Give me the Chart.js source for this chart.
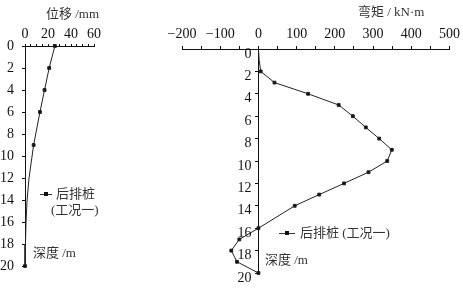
<!DOCTYPE html>
<html>
<head>
<meta charset="utf-8">
<script src="https://cdn.jsdelivr.net/npm/chart.js@4.4.0/dist/chart.umd.min.js"></script>
<style>
  body { margin: 0; width: 463px; height: 290px; overflow: hidden; background: #fff; position: relative; }
  canvas { position: absolute; top: 0; }
  .txt { position: absolute; font-family: "Liberation Serif", "Noto Sans CJK SC", serif; font-size: 13px; color: #333; white-space: nowrap; line-height: 1; }
  .leg { position: absolute; height: 1px; background: #333; }
  .mk { position: absolute; width: 4px; height: 4px; background: #111; }
</style>
</head>
<body>
<div style="position:absolute;left:0;top:0;width:120px;height:290px"><canvas id="dispChart"></canvas></div>
<div style="position:absolute;left:160px;top:0;width:303px;height:290px"><canvas id="momentChart"></canvas></div>

<div class="txt" style="left:46px;top:7px">位移 /mm</div>
<div class="txt" style="left:358px;top:5px">弯矩 / kN·m</div>
<div class="txt" style="left:33px;top:246px">深度 /m</div>
<div class="txt" style="left:265px;top:253px">深度 /m</div>

<div class="leg" style="left:40px;top:194px;width:12px"></div>
<div class="mk" style="left:44px;top:192px"></div>
<div class="txt" style="left:56px;top:187px">后排桩</div>
<div class="txt" style="left:51px;top:203px">(工况一)</div>

<div class="leg" style="left:279px;top:233px;width:16px"></div>
<div class="mk" style="left:285px;top:231px"></div>
<div class="txt" style="left:300px;top:226px">后排桩 (工况一)</div>

<script>
// pile displacement (mm) vs depth (m)
const dispDepth = [0, 2, 4, 6, 9, 12, 14, 16, 18, 20];
const dispValue = [26, 21, 17, 13, 7.5, 3.5, 1.8, 0.9, 0.4, 0];
const dispMarker = [1, 1, 1, 1, 1, 0, 0, 0, 0, 1];

// bending moment (kN·m) vs depth (m)
const momentDepth = [0, 1, 2, 3, 4, 5, 6, 7, 8, 9, 10, 11, 12, 13, 14, 16, 17, 18, 19, 20];
const momentValue = [0, 2, 6, 42, 130, 210, 247, 281, 316, 349, 337, 288, 224, 159, 95, 0, -50, -71, -56, 0];
const momentMarker = [0, 0, 1, 1, 1, 1, 1, 1, 1, 1, 1, 1, 1, 1, 1, 1, 1, 1, 1, 1];

const dispTicks = [0, 20, 40, 60];
const momentTicks = [-200, -100, 0, 100, 200, 300, 400, 500];
const depthTicks = [0, 2, 4, 6, 8, 10, 12, 14, 16, 18, 20];

const tickFont = { family: 'Liberation Serif', size: 14 };
const ink = '#111';

function toPoints(xs, ys) {
    return xs.map((d, i) => ({ x: ys[i], y: d }));
}

function depthAxis(extra, suffix, offset) {
    return Object.assign({
        type: 'linear',
        reverse: true,
        min: 0,
        max: 20,
        ticks: {
            stepSize: 1,
            color: ink,
            font: tickFont,
            padding: 8,
            labelOffset: offset,
            callback: v => depthTicks.includes(v) ? String(v) + suffix : ''
        },
        grid: { drawOnChartArea: false, color: ink, tickLength: 3 },
        border: { display: true, color: ink, width: 1 }
    }, extra);
}

const dispCtx = document.getElementById('dispChart').getContext('2d');
new Chart(dispCtx, {
    type: 'line',
    data: {
        datasets: [{
            label: '后排桩 (工况一)',
            data: toPoints(dispDepth, dispValue),
            borderColor: '#222',
            borderWidth: 1,
            backgroundColor: ink,
            pointStyle: 'rect',
            pointRadius: dispMarker.map(m => m ? 2 : 0),
            clip: false,
            tension: 0
        }]
    },
    options: {
        responsive: true,
        maintainAspectRatio: false,
        animation: false,
        layout: { padding: { left: 0, top: 0, right: 26, bottom: 24 } },
        plugins: { legend: { display: false }, tooltip: { enabled: false } },
        scales: {
            x: {
                type: 'linear',
                position: 'top',
                min: 0,
                max: 60,
                ticks: {
                    stepSize: 5,
                    color: ink,
                    font: tickFont,
                    padding: 1,
                    maxRotation: 0,
                    autoSkip: false,
                    callback: v => dispTicks.includes(v) ? String(v) : ''
                },
                grid: { drawOnChartArea: false, color: ink, tickLength: 2 },
                border: { display: true, color: ink, width: 1 },
                afterFit: s => { s.height = 46; }
            },
            y: depthAxis({
                position: 'left',
                afterFit: s => { s.width = 25; }
            }, '', 0)
        }
    }
});

const momentCtx = document.getElementById('momentChart').getContext('2d');
new Chart(momentCtx, {
    type: 'line',
    data: {
        datasets: [{
            label: '后排桩 (工况一)',
            data: toPoints(momentDepth, momentValue),
            borderColor: '#222',
            borderWidth: 1,
            backgroundColor: ink,
            pointStyle: 'rect',
            pointRadius: momentMarker.map(m => m ? 2 : 0),
            clip: false,
            tension: 0
        }]
    },
    options: {
        responsive: true,
        maintainAspectRatio: false,
        animation: false,
        layout: { padding: { left: 22, top: 0, right: 10, bottom: 17 } },
        plugins: { legend: { display: false }, tooltip: { enabled: false } },
        scales: {
            x: {
                type: 'linear',
                position: 'top',
                min: -200,
                max: 500,
                ticks: {
                    stepSize: 50,
                    color: ink,
                    font: tickFont,
                    padding: 3,
                    maxRotation: 0,
                    autoSkip: false,
                    callback: v => momentTicks.includes(v) ? String(v).replace('-', '\u2212') : ''
                },
                grid: { drawOnChartArea: false, color: ink, tickLength: 3 },
                border: { display: true, color: ink, width: 1 },
                afterFit: s => { s.height = 49; }
            },
            y: depthAxis({
                position: { x: 0 }
            }, '\u2002', 5)
        }
    }
});
</script>
</body>
</html>
